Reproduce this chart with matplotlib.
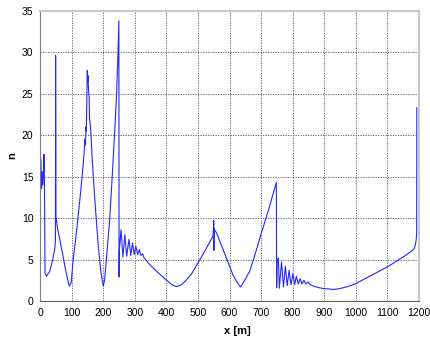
import numpy as np
import matplotlib.pyplot as plt

# n along the section, read piecewise (x in m)
x_head = [0, 2, 4, 6, 8, 10, 12, 13, 15, 20, 30, 38, 46, 48, 48.6, 49.6, 55, 62, 70, 78, 86, 92, 98]
n_head = [17.5, 17.0, 13.6, 15.6, 14.0, 15.4, 17.7, 15.0, 3.3, 3.0, 3.6, 4.8, 6.3, 7.2, 29.6, 10.2, 8.7, 7.4, 5.8, 4.2, 2.7, 1.8, 2.2]

x_peak1 = [104, 112, 120, 128, 134, 139, 141, 143, 145, 146, 148, 149, 150, 151, 153, 155, 156, 158, 160, 164,
           168, 176, 184, 192, 197, 200, 204]
n_peak1 = [4.9, 7.4, 10.2, 13.2, 15.6, 17.9, 19.5, 18.8, 21.0, 20.5, 26.0, 27.8, 26.5, 27.2, 25.5, 24.5, 22.0, 21.5,
           20.6, 17.5, 15.0, 10.6, 6.6, 3.6, 2.3, 1.8, 2.6]

x_peak2 = [210, 220, 228, 236, 242, 245, 248, 249.2, 249.8, 250.4]
n_peak2 = [5.2, 9.8, 15.0, 20.5, 25.0, 28.2, 32.0, 33.8, 2.9, 6.0]

# damped ringing after the 250 m jump
x_ring1 = [256, 262, 268, 274, 281, 287, 292.5, 298, 303, 309, 314, 319, 324.5, 329, 334]
n_ring1 = [8.6, 5.3, 8.0, 5.4, 7.45, 5.5, 7.0, 5.6, 6.6, 5.6, 6.2, 5.5, 5.7, 5.2, 5.0]

x_valley = [342, 360, 380, 395, 410, 420, 432, 445, 460, 480, 500, 520, 540, 548, 550, 550.5, 551, 552, 556,
            560, 565, 569, 580, 590, 600, 611, 625, 635, 645, 654, 664, 680, 701, 727, 748.5]
n_valley = [4.6, 3.9, 3.2, 2.7, 2.2, 1.9, 1.75, 1.9, 2.4, 3.3, 4.6, 5.9, 7.3, 7.9, 9.7, 6.1, 8.8, 8.6, 8.4,
            8.1, 7.7, 7.2, 6.2, 5.2, 4.2, 3.15, 2.2, 1.7, 2.3, 2.9, 3.6, 5.5, 8.2, 11.4, 14.3]

# ringing after the 750 m drop
x_ring2 = [749.5, 751, 755, 758, 765, 771, 777, 783, 789, 795, 801, 807, 812, 818, 824, 830, 836, 842, 849]
n_ring2 = [1.6, 4.8, 5.2, 1.55, 4.7, 1.7, 4.2, 1.85, 3.7, 1.95, 3.3, 2.0, 3.0, 2.05, 2.7, 2.05, 2.5, 2.05, 2.3]

x_tail = [855, 870, 885, 900, 917, 930, 950, 975, 1000, 1025, 1050, 1075, 1100, 1125, 1150, 1175, 1185,
          1189, 1192, 1193.5, 1194]
n_tail = [2.0, 1.75, 1.6, 1.5, 1.45, 1.4, 1.5, 1.75, 2.1, 2.6, 3.1, 3.6, 4.1, 4.7, 5.3, 5.95, 6.3, 6.7, 7.4, 8.2, 23.3]

x = np.concatenate([x_head, x_peak1, x_peak2, x_ring1, x_valley, x_ring2, x_tail])
n = np.concatenate([n_head, n_peak1, n_peak2, n_ring1, n_valley, n_ring2, n_tail])

plt.rcParams['font.family'] = ['Liberation Sans', 'DejaVu Sans']

fig = plt.figure(figsize=(4.31, 3.39), dpi=100)
ax = fig.add_axes([0.0935, 0.112, 0.878, 0.856])

ax.plot(x, n, color='#2626ff', lw=0.8)

ax.set_xlim(0, 1200)
ax.set_ylim(0, 35)
ax.set_xticks(np.arange(0, 1201, 100))
ax.set_yticks(np.arange(0, 36, 5))
ax.grid(True, color='#555555', linestyle=(0, (1.5, 1.5)), lw=0.6)
ax.tick_params(length=0, labelsize=7.5, pad=5)

ax.spines['left'].set_color('#808080')
ax.spines['bottom'].set_color('#606060')
for side in ('top', 'right'):
    ax.spines[side].set_color('#c8c8c8')
    ax.spines[side].set_linewidth(1.5)

ax.set_xlabel('x [m]', fontsize=8, fontweight='bold', labelpad=4)
ax.xaxis.set_label_coords(0.52, -0.085)
ax.set_ylabel('n', fontsize=8, fontweight='bold', labelpad=3)

fig.savefig('out.png', dpi=100)
